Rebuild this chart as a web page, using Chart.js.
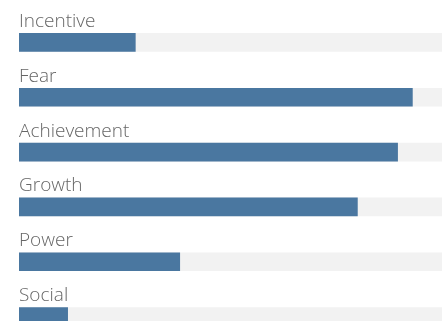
<!DOCTYPE html>
<html>
<head>
<meta charset="utf-8">
<script src="https://cdn.jsdelivr.net/npm/chart.js@4.4.0/dist/chart.umd.min.js"></script>
<style>
  html, body { margin: 0; padding: 0; background: #fff; overflow: hidden; }
  #wrap { position: relative; width: 442px; height: 344px; }
</style>
</head>
<body>
<div id="wrap"><canvas id="c"></canvas></div>
<script>
const categories = ["Incentive", "Fear", "Achievement", "Growth", "Power", "Social"];
const scores = [27.5, 93, 89.5, 80, 38, 11.5];
const trackMax = [100, 100, 100, 100, 100, 100];

const labelPlugin = {
  id: 'labelsAbove',
  afterDatasetsDraw(chart) {
    const ctx = chart.ctx;
    const meta = chart.getDatasetMeta(1);
    const left = chart.chartArea.left;
    ctx.save();
    ctx.font = '300 19px "Open Sans", sans-serif';
    ctx.fillStyle = '#666666';
    ctx.textBaseline = 'alphabetic';
    ctx.textAlign = 'left';
    meta.data.forEach((bar, i) => {
      ctx.fillText(chart.data.labels[i], left, bar.y - 9 - 6.5);
    });
    ctx.restore();
  }
};

new Chart(document.getElementById('c'), {
  type: 'bar',
  data: {
    labels: categories,
    datasets: [
      { data: scores, backgroundColor: '#4a77a0', barThickness: 18, grouped: false, order: 1 },
      { data: trackMax, backgroundColor: '#f2f2f2', barThickness: 18, grouped: false, order: 2 }
    ]
  },
  options: {
    indexAxis: 'y',
    responsive: true,
    maintainAspectRatio: false,
    animation: false,
    layout: { padding: { left: 19, right: 0, top: 15, bottom: 0 } },
    plugins: { legend: { display: false }, tooltip: { enabled: false } },
    scales: {
      x: { display: false, min: 0, max: 100 },
      y: { display: false }
    }
  },
  plugins: [labelPlugin]
});
</script>
</body>
</html>
